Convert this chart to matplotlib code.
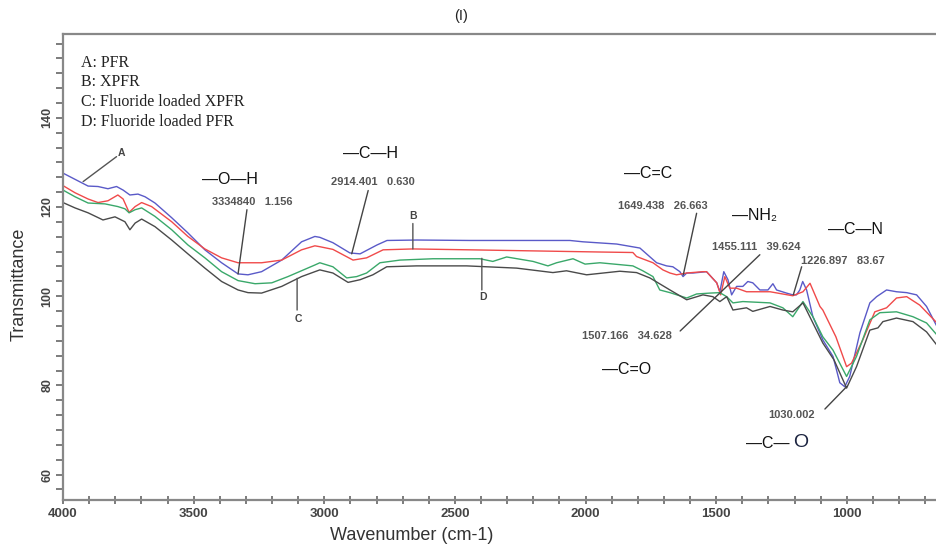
import numpy as np
import matplotlib
matplotlib.use("Agg")
import matplotlib.pyplot as plt
from matplotlib.ticker import MultipleLocator

# ---------------- data ----------------
wn_A = np.array([4000, 3904, 3866, 3828, 3795, 3770, 3744, 3713, 3686, 3648, 3584, 3522, 3457,
                 3393, 3330, 3292, 3240, 3163, 3087, 3036, 3017, 2967, 2902, 2863, 2798, 2760,
                 2645, 2443, 2060, 2010, 1881, 1792, 1728, 1690, 1666, 1639, 1627, 1613, 1589,
                 1537, 1498, 1486, 1471, 1455, 1441, 1422, 1398, 1379, 1360, 1333, 1302, 1283,
                 1269, 1231, 1207, 1193, 1180, 1169, 1154, 1130, 1092, 1053, 1027, 1008, 989,
                 950, 912, 886, 848, 810, 771, 733, 695, 655])
tr_A = np.array([127.6, 124.7, 124.6, 124.1, 124.6, 123.8, 122.7, 122.9, 122.3, 120.9, 117.6,
                 114.2, 110.4, 107.5, 105.0, 104.8, 105.5, 108.1, 112.2, 113.4, 113.2, 112.0,
                 109.7, 109.5, 111.5, 112.5, 112.6, 112.5, 112.5, 112.2, 111.7, 110.8, 107.5,
                 106.8, 106.6, 105.5, 104.4, 105.2, 105.2, 105.5, 103.0, 101.0, 105.5, 103.7,
                 100.3, 102.2, 102.2, 103.3, 103.0, 101.4, 101.4, 102.8, 101.4, 100.7, 100.3,
                 100.3, 101.4, 103.3, 101.4, 95.4, 90.2, 86.5, 80.6, 79.7, 82.0, 91.8, 98.5,
                 99.9, 101.4, 101.0, 100.8, 100.3, 97.7, 93.2])

wn_B = np.array([4000, 3954, 3904, 3866, 3828, 3790, 3770, 3747, 3724, 3699, 3661, 3584, 3522,
                 3457, 3393, 3330, 3240, 3163, 3087, 3036, 3017, 2967, 2890, 2838, 2775, 2661,
                 2443, 1934, 1819, 1805, 1742, 1704, 1677, 1652, 1613, 1551, 1537, 1498, 1483,
                 1467, 1448, 1422, 1384, 1294, 1207, 1168, 1141, 1103, 1092, 1042, 1001, 982,
                 939, 893, 848, 810, 771, 721, 655])
tr_B = np.array([124.8, 123.2, 121.8, 121.0, 121.4, 122.7, 121.8, 118.8, 120.1, 121.0, 120.1,
                 116.7, 113.4, 110.6, 108.6, 107.5, 107.5, 108.1, 110.4, 111.3, 111.1, 110.5,
                 108.1, 108.6, 110.4, 110.6, 110.4, 109.9, 109.8, 108.9, 107.5, 105.9, 105.2,
                 104.8, 105.2, 105.5, 105.5, 103.0, 100.3, 104.4, 101.8, 101.8, 101.0, 101.0,
                 100.1, 101.0, 102.9, 97.7, 96.9, 90.9, 84.2, 85.0, 90.2, 96.5, 97.4, 99.6,
                 99.9, 98.0, 94.0])

wn_C = np.array([4000, 3954, 3904, 3839, 3790, 3763, 3747, 3724, 3699, 3648, 3584, 3522, 3457,
                 3393, 3330, 3265, 3201, 3139, 3036, 3017, 2967, 2914, 2876, 2838, 2787, 2710,
                 2584, 2404, 2355, 2302, 2201, 2144, 2111, 2048, 2002, 1945, 1819, 1781, 1742,
                 1716, 1677, 1613, 1575, 1524, 1486, 1460, 1436, 1398, 1294, 1245, 1207, 1168,
                 1130, 1092, 1053, 1001, 963, 912, 874, 810, 747, 695, 655])
tr_C = np.array([123.8, 122.3, 120.9, 120.7, 120.1, 119.6, 118.7, 119.4, 119.8, 117.9, 114.9,
                 111.5, 108.6, 105.5, 103.5, 102.8, 103.0, 104.4, 107.0, 107.5, 106.6, 104.1,
                 104.4, 105.2, 107.5, 108.1, 108.4, 108.4, 107.8, 108.8, 107.8, 106.8, 107.5,
                 108.4, 107.2, 107.5, 106.8, 105.7, 104.4, 101.4, 100.8, 99.6, 100.5, 100.7,
                 100.8, 99.9, 98.5, 98.8, 98.5, 97.4, 95.4, 98.8, 95.4, 90.9, 87.9, 82.0, 86.5,
                 94.7, 96.3, 96.5, 95.4, 94.0, 91.3])

wn_D = np.array([4000, 3954, 3904, 3847, 3801, 3763, 3744, 3724, 3699, 3648, 3584, 3522, 3457,
                 3393, 3330, 3292, 3240, 3163, 3087, 3036, 3017, 2967, 2909, 2863, 2814, 2761,
                 2647, 2455, 2264, 2125, 2073, 1996, 1869, 1805, 1754, 1677, 1613, 1551, 1513,
                 1486, 1460, 1436, 1384, 1360, 1294, 1245, 1207, 1168, 1130, 1092, 1049, 1001,
                 963, 912, 881, 862, 810, 747, 695, 655])
tr_D = np.array([121.0, 119.8, 118.7, 117.1, 117.8, 116.7, 114.9, 116.4, 117.3, 115.6, 112.6,
                 109.5, 106.3, 103.3, 101.4, 100.8, 100.7, 102.2, 104.4, 105.5, 105.9, 105.2,
                 103.1, 103.7, 104.8, 106.6, 106.8, 106.8, 106.3, 105.3, 105.7, 104.8, 105.6,
                 105.3, 104.1, 101.4, 99.2, 100.3, 99.9, 98.8, 99.9, 96.9, 97.4, 96.6, 97.7,
                 96.9, 96.5, 98.5, 94.0, 89.5, 85.7, 79.4, 84.2, 92.4, 92.9, 94.3, 95.1, 94.3,
                 92.0, 89.0])

legend_lines = ["A: PFR", "B: XPFR", "C: Fluoride loaded XPFR", "D: Fluoride loaded PFR"]
x_major_ticks = [4000, 3500, 3000, 2500, 2000, 1500, 1000]
y_major_ticks = [60, 80, 100, 120, 140]

# curve letters: (text, text position, leader start, leader end)
letter_labels = [
    ("A", (3775, 132.1), (3795, 131.3), (3923, 125.7)),
    ("B", (2661, 118.0), (2661, 116.3), (2661, 110.6)),
    ("C", (3100, 94.8), (3104, 96.9), (3104, 104.0)),
    ("D", (2393, 99.9), (2397, 101.4), (2397, 108.5)),
]
# peak value labels: (text, text position, leader start, leader end)
peak_labels = [
    ("3334840   1.156", (3277, 121.2), (3296, 119.4), (3330, 105.0)),
    ("2914.401   0.630", (2814, 125.7), (2832, 123.7), (2895, 109.5)),
    ("1649.438   26.663", (1703, 120.3), (1575, 118.6), (1626, 104.8)),
    ("1455.111   39.624", (1346, 111.1), (1333, 109.3), (1638, 92.2)),
    ("1507.166   34.628", (1843, 91.1), None, None),
    ("1226.897   83.67", (1014, 107.9), (1173, 106.6), (1205, 100.3)),
    ("1030.002", (1212, 73.4), (1084, 74.7), (1001, 79.7)),
]
group_labels = [
    ("\u2014O\u2014H", (3361, 126.1)),
    ("\u2014C\u2014H", (2825, 132.1)),
    ("\u2014C=C", (1760, 127.6)),
    ("\u2014NH\u2082", (1352, 118.2)),
    ("\u2014C\u2014N", (969, 114.9)),
    ("\u2014C=O", (1843, 83.6)),
]

# ---------------- figure ----------------
fig = plt.figure(figsize=(9.37, 5.5), dpi=100)
ax = fig.add_axes([63 / 937, 1 - 500 / 550, 1 - 63 / 937, (500 - 34) / 550])

ax.plot(wn_A, tr_A, color="#5a5ac8", lw=1.0)
ax.plot(wn_B, tr_B, color="#f04a4a", lw=1.0)
ax.plot(wn_C, tr_C, color="#3aa86a", lw=1.0)
ax.plot(wn_D, tr_D, color="#4a4a4a", lw=1.0)

ax.set_xlim(4000, 655)
ax.set_ylim(54.3, 158.8)

sans = ["Liberation Sans", "DejaVu Sans"]
serif = ["Liberation Serif", "DejaVu Serif"]

ax.set_xticks(x_major_ticks)
ax.xaxis.set_minor_locator(MultipleLocator(100))
ax.set_yticks(y_major_ticks)
ax.yaxis.set_minor_locator(MultipleLocator(20 / 6))
ax.tick_params(axis="x", which="both", direction="inout", length=6, width=1.2,
               color="#666666", pad=3)
ax.tick_params(axis="y", which="both", direction="out", length=5, width=1.2,
               color="#666666", pad=2)
for lab in ax.get_xticklabels():
    lab.set_fontfamily(sans)
    lab.set_fontsize(9.5)
    lab.set_fontweight("bold")
    lab.set_color("#444444")
for lab in ax.get_yticklabels():
    lab.set_fontfamily(sans)
    lab.set_fontsize(9)
    lab.set_fontweight("bold")
    lab.set_color("#444444")
    lab.set_rotation(90)
    lab.set_va("center")

for side in ["left", "bottom", "top"]:
    ax.spines[side].set_color("#888888")
    ax.spines[side].set_linewidth(1.6)
ax.spines["right"].set_visible(False)

fig.text(412 / 937, 1 - 536 / 550, "Wavenumber (cm-1)", ha="center", va="center",
         fontfamily=sans, fontsize=13, color="#333333")
fig.text(19 / 937, 1 - 284 / 550, "Transmittance", ha="center", va="center", rotation=90,
         fontfamily=sans, fontsize=13, color="#333333")
fig.text(461 / 937, 1 - 16 / 550, "(I)", ha="center", va="center",
         fontfamily=sans, fontsize=10.5, color="#222222")

# legend block
for i, t in enumerate(legend_lines):
    ax.text(0.0205, 0.9385 - i * 0.0425, t, transform=ax.transAxes, ha="left", va="center",
            fontfamily=serif, fontsize=11.5, color="#222222")

for t, pos, p0, p1 in letter_labels:
    ax.text(*pos, t, ha="center", va="center", fontfamily=sans, fontsize=7.5,
            fontweight="bold", color="#444444")
    ax.annotate("", xy=p1, xytext=p0,
                arrowprops=dict(arrowstyle="-", color="#555555", lw=1.0,
                                shrinkA=0, shrinkB=0))

for t, pos, p0, p1 in peak_labels:
    ax.text(*pos, t, ha="center", va="center", fontfamily=sans, fontsize=8,
            fontweight="bold", color="#555555")
    if p0 is not None:
        ax.annotate("", xy=p1, xytext=p0,
                    arrowprops=dict(arrowstyle="-", color="#444444", lw=1.0,
                                    shrinkA=0, shrinkB=0))

for t, pos in group_labels:
    ax.text(*pos, t, ha="center", va="center", fontfamily=sans, fontsize=11.5,
            color="#111111")
ax.text(1218, 67.0, "\u2014C\u2014", ha="right", va="center", fontfamily=sans,
        fontsize=11.5, color="#111111")
ax.text(1176, 67.3, "O", ha="center", va="center", fontfamily=sans,
        fontsize=14, color="#1c2440")

fig.savefig("out.png", dpi=100)
